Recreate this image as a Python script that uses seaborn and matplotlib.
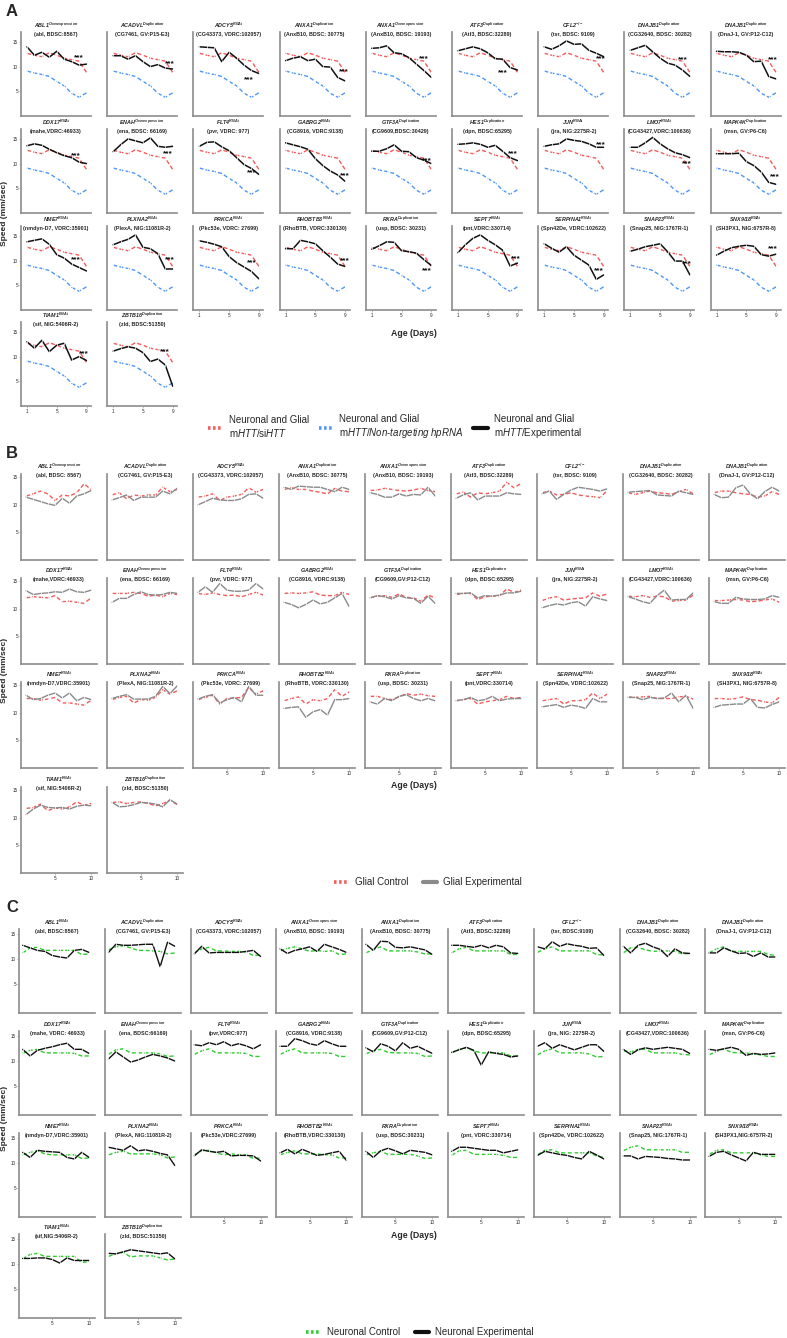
# Walking speed of HD flies, three screens (A: neuronal+glial, B: glial, C: neuronal)
import numpy as np
import pandas as pd
import matplotlib
matplotlib.use("Agg")
import matplotlib.pyplot as plt
import seaborn as sns
from matplotlib.lines import Line2D

# ==========================================
# DATA
# ==========================================

genes_a = ["ABL1", "ACADVL", "ADCY5", "ANXA1", "ANXA1", "ATF3", "CFL2", "DNAJB1", "DNAJB1",
           "DDX17", "ENAH", "FLT4", "GABRG2", "GTF3A", "HES1", "JUN", "LMO7", "MAPK4K",
           "NME7", "PLXNA2", "PRKCA", "RHOBTB3", "RXRA", "SEPT7", "SERPINA1", "SNAP23", "SNX9/18",
           "TIAM1", "ZBTB16"]
genes_bc = genes_a[:21] + ["RHOBTB2"] + genes_a[22:]

mods_ab = ["Overexpression", "Duplication", "RNAi", "Duplication", "Overexpression", "Duplication",
           "-/-", "Duplication", "Duplication", "RNAi", "Overexpression", "RNAi", "RNAi",
           "Duplication", "Duplication", "RNAi", "RNAi", "Duplication", "RNAi", "RNAi", "RNAi",
           "RNAi", "Duplication", "RNAi", "RNAi", "RNAi", "RNAi", "RNAi", "Duplication"]
mods_c = ["RNAi", "Duplication", "RNAi", "Overexpression", "Duplication"] + mods_ab[5:]

subs_a = ["(abl, BDSC:8567)", "(CG7461, GV:P15-E3)", "(CG43373, VDRC:102057)",
          "(AnxB10, BDSC: 30775)", "(AnxB10, BDSC: 19193)", "(Atf3, BDSC:32289)",
          "(tsr, BDSC: 9109)", "(CG32640, BDSC: 30282)", "(DnaJ-1, GV:P12-C12)",
          "(mahe,VDRC:46933)", "(ena, BDSC: 66169)", "(pvr, VDRC: 977)", "(CG8916, VDRC:9138)",
          "(CG9609,BDSC:30429)", "(dpn, BDSC:65295)", "(jra, NIG:2275R-2)",
          "(CG43427,VDRC:100636)", "(msn, GV:P6-C6)", "(nmdyn-D7, VDRC:35901)",
          "(PlexA, NIG:11081R-2)", "(Pkc53e, VDRC: 27699)", "(RhoBTB, VDRC:330130)",
          "(usp, BDSC: 30231)", "(pnt,VDRC:330714)", "(Spn42De, VDRC:102622)",
          "(Snap25, NIG:1767R-1)", "(SH3PX1, NIG:6757R-8)", "(sif, NIG:5406R-2)",
          "(zld, BDSC:51350)"]
subs_b = ["(abl, BDSC: 8567)"] + subs_a[1:13] + ["(CG9609,GV:P12-C12)"] + subs_a[14:18] + \
         ["(nmdyn-D7,VDRC:35901)"] + subs_a[19:]
subs_c = ["(abl, BDSC:8567)", "(CG7461, GV:P15-E3)", "(CG43373, VDRC:102057)",
          "(AnxB10, BDSC: 19193)", "(AnxB10, BDSC: 30775)", "(Atf3, BDSC:32289)",
          "(tsr, BDSC:9109)", "(CG32640, BDSC: 30282)", "(DnaJ-1, GV:P12-C12)",
          "(mahe, VDRC: 46933)", "(ena, BDSC:66169)", "(pvr,VDRC:977)", "(CG8916, VDRC:9138)",
          "(CG9609,GV:P12-C12)", "(dpn, BDSC:65295)", "(jra, NIG: 2275R-2)",
          "(CG43427,VDRC:100636)", "(msn, GV:P6-C6)", "(nmdyn-D7,VDRC:35901)",
          "(PlexA, NIG:11081R-2)", "(Pkc53e,VDRC:27699)", "(RhoBTB,VDRC:330130)",
          "(usp, BDSC:30231)", "(pnt, VDRC:330714)", "(Spn42De, VDRC:102622)",
          "(Snap25, NIG:1767R-1)", "(SH3PX1,NIG:6757R-2)", "(sif,NIG:5406R-2)",
          "(zld, BDSC:51350)"]

days_a = [1, 2, 3, 4, 5, 6, 7, 8, 9]
days_bc = [1, 2, 3, 4, 5, 6, 7, 8, 9, 10]

# panel A controls (same in every plot)
a_sihtt = [12.7, 12.3, 12.0, 12.8, 12.3, 11.7, 11.4, 11.1, 8.8]
a_nontarget = [9.1, 8.7, 8.4, 8.0, 7.0, 6.1, 4.6, 3.8, 4.7]

a_exp = [
    [14.0, 12.3, 12.9, 11.9, 13.1, 11.5, 11.0, 10.3, 10.5],
    [12.2, 12.2, 11.5, 12.2, 11.0, 10.0, 10.4, 9.7, 9.5],
    [14.0, 13.9, 13.8, 11.0, 12.9, 11.7, 10.3, 9.2, 8.6],
    [11.2, 11.7, 12.0, 11.2, 11.5, 10.0, 9.9, 7.8, 7.1],
    [13.7, 13.8, 14.2, 12.8, 12.6, 11.8, 10.5, 9.2, 7.8],
    [13.2, 13.6, 14.0, 13.6, 12.8, 11.6, 11.5, 9.8, 9.3],
    [14.0, 13.5, 14.2, 15.2, 14.5, 14.6, 13.3, 12.7, 12.0],
    [13.3, 13.8, 14.3, 13.0, 11.7, 10.7, 10.3, 9.3, 8.0],
    [13.1, 13.0, 13.0, 12.9, 12.3, 11.0, 11.1, 8.0, 7.5],
    [13.6, 14.0, 13.7, 12.9, 12.2, 11.6, 11.2, 10.3, 10.0],
    [12.4, 13.8, 15.0, 14.6, 14.2, 15.2, 13.5, 13.3, 13.5],
    [13.5, 14.3, 14.4, 13.4, 12.6, 11.2, 9.8, 9.0, 7.8],
    [14.2, 13.8, 13.4, 12.9, 11.0, 9.6, 8.5, 7.7, 6.4],
    [12.5, 12.5, 13.0, 13.8, 12.5, 12.4, 11.2, 10.7, 10.0],
    [13.9, 14.0, 14.2, 13.9, 13.3, 13.7, 12.5, 11.2, 10.6],
    [13.5, 13.8, 14.0, 15.0, 14.7, 14.5, 14.0, 13.3, 13.3],
    [13.3, 13.3, 14.2, 15.3, 14.0, 13.0, 12.2, 11.8, 11.2],
    [12.0, 12.0, 12.0, 12.1, 10.4, 9.6, 8.3, 6.2, 5.8],
    [13.8, 14.1, 14.4, 13.3, 11.2, 10.5, 9.3, 8.6, 7.9],
    [13.2, 13.8, 14.3, 15.2, 12.7, 12.4, 11.4, 8.3, 8.3],
    [14.0, 13.7, 13.3, 12.8, 10.8, 9.6, 8.7, 7.8, 6.3],
    [12.4, 12.4, 14.1, 13.8, 13.4, 12.0, 10.7, 9.3, 8.8],
    [12.3, 13.0, 13.8, 13.7, 12.0, 11.8, 11.5, 10.2, 9.0],
    [11.6, 13.2, 14.5, 15.2, 14.1, 13.2, 12.1, 8.9, 9.5],
    [13.4, 12.5, 11.7, 12.8, 11.1, 10.1, 9.1, 6.2, 7.1],
    [11.9, 12.3, 12.8, 13.1, 13.4, 11.8, 9.9, 9.9, 7.1],
    [11.1, 11.9, 12.6, 12.9, 13.1, 12.9, 11.2, 10.9, 11.3],
    [13.0, 11.7, 13.3, 11.0, 12.3, 12.7, 9.3, 10.0, 9.2],
    [11.1, 11.6, 12.0, 11.7, 10.8, 9.0, 9.5, 8.3, 4.0],
]
# "***" label positions in panel A (day, speed)
star_day = [8.0, 8.6, 7.6, 8.8, 8.0, 7.0, 8.6, 8.0, 8.6,
            7.6, 8.4, 8.0, 9.0, 8.4, 8.4, 8.6, 8.6, 8.8,
            7.6, 8.6, 8.0, 9.0, 8.4, 8.8, 8.4, 8.6, 8.6,
            8.6, 8.0]
star_speed = [11.8, 10.6, 7.4, 8.9, 11.6, 8.8, 11.5, 11.3, 11.3,
              11.5, 12.0, 8.2, 7.6, 10.6, 12.0, 13.8, 10.0, 7.3,
              10.2, 10.2, 9.5, 10.0, 8.0, 10.3, 8.0, 9.3, 12.3,
              10.6, 11.0]

b_ctrl = [
    [11.6, 12.0, 12.5, 12.0, 10.8, 11.8, 11.6, 12.2, 13.8, 12.8],
    [11.8, 12.2, 11.1, 11.8, 11.6, 11.8, 11.8, 13.2, 12.4, 12.8],
    [11.4, 11.6, 12.0, 10.8, 11.4, 11.6, 11.9, 13.1, 12.3, 12.8],
    [12.8, 13.1, 12.8, 12.8, 12.5, 12.3, 12.0, 13.0, 12.5, 12.4],
    [12.6, 12.7, 13.0, 12.8, 12.6, 12.5, 12.7, 13.0, 12.6, 12.4],
    [12.0, 12.3, 11.4, 12.2, 12.0, 12.2, 12.5, 14.1, 13.1, 13.9],
    [12.2, 12.5, 11.8, 11.9, 12.2, 11.8, 11.6, 11.5, 11.3, 12.6],
    [12.2, 11.9, 12.2, 12.5, 12.2, 12.1, 11.9, 12.4, 12.8, 12.0],
    [12.2, 12.5, 12.5, 12.2, 12.0, 11.9, 11.4, 11.6, 12.4, 11.9],
    [12.0, 12.2, 12.1, 12.0, 12.4, 11.3, 11.4, 11.2, 11.0, 12.0],
    [12.8, 12.8, 12.8, 13.0, 12.8, 12.3, 12.5, 12.2, 12.8, 12.6],
    [12.8, 12.6, 12.9, 12.6, 12.4, 12.5, 12.2, 12.6, 13.0, 12.5],
    [12.8, 12.9, 12.8, 12.9, 13.1, 12.5, 12.4, 12.4, 13.0, 12.6],
    [12.0, 12.3, 12.4, 12.1, 12.7, 12.1, 12.0, 11.4, 12.5, 12.0],
    [12.6, 12.8, 12.8, 11.7, 12.2, 12.3, 12.4, 13.6, 13.0, 13.4],
    [11.5, 12.0, 12.2, 11.6, 11.8, 11.9, 12.0, 12.9, 12.3, 12.7],
    [12.3, 12.2, 12.4, 12.1, 12.3, 12.2, 11.4, 11.5, 11.6, 12.5],
    [11.5, 11.5, 11.6, 11.7, 11.6, 11.3, 11.4, 11.6, 11.8, 11.2],
    [12.6, 12.6, 12.3, 12.5, 12.8, 11.8, 11.8, 11.6, 11.4, 12.3],
    [12.4, 12.8, 13.0, 11.8, 12.4, 12.3, 12.8, 14.2, 13.4, 14.0],
    [12.4, 12.8, 13.2, 11.6, 12.6, 12.7, 12.8, 14.6, 13.4, 14.0],
    [12.2, 12.6, 12.9, 11.6, 12.4, 12.2, 12.6, 14.2, 13.0, 13.8],
    [13.0, 13.0, 12.6, 12.4, 12.9, 13.5, 13.2, 13.4, 13.1, 13.0],
    [12.2, 12.4, 12.6, 11.6, 12.0, 12.2, 12.4, 13.0, 12.6, 12.8],
    [12.2, 12.4, 12.6, 11.6, 12.2, 12.2, 12.4, 13.6, 12.6, 13.4],
    [12.9, 12.8, 12.9, 13.0, 12.6, 12.6, 12.6, 12.9, 13.0, 12.5],
    [12.6, 12.6, 12.5, 12.6, 12.9, 12.4, 12.3, 12.0, 11.8, 12.8],
    [11.7, 11.9, 12.5, 11.3, 11.8, 11.6, 12.0, 12.9, 12.3, 12.6],
    [12.8, 12.9, 12.6, 12.8, 12.9, 12.6, 12.2, 12.6, 13.2, 12.4],
]
b_exp = [
    [11.4, 11.0, 10.6, 10.2, 9.9, 11.2, 10.3, 11.6, 12.0, 12.6],
    [10.9, 11.3, 11.8, 10.8, 11.4, 11.4, 11.4, 12.5, 12.0, 13.0],
    [10.0, 10.6, 11.2, 10.9, 10.8, 10.8, 11.1, 11.9, 12.0, 11.2],
    [13.2, 12.8, 13.4, 13.3, 13.2, 13.2, 12.8, 12.4, 13.2, 12.8],
    [12.2, 11.9, 11.4, 11.4, 12.0, 11.6, 11.9, 11.8, 13.2, 11.6],
    [11.2, 11.8, 12.2, 10.9, 11.6, 11.6, 11.6, 12.2, 12.0, 11.9],
    [12.0, 12.5, 11.0, 11.9, 12.7, 13.2, 13.0, 12.8, 12.5, 12.9],
    [12.3, 12.4, 12.5, 12.6, 11.8, 11.7, 11.6, 12.5, 12.2, 11.9],
    [11.9, 11.3, 11.4, 13.1, 13.6, 12.0, 11.1, 12.4, 13.2, 12.5],
    [13.3, 12.6, 12.8, 12.9, 13.1, 13.0, 13.6, 13.1, 13.0, 13.4],
    [11.2, 11.9, 11.9, 12.6, 13.1, 12.6, 12.5, 12.6, 13.0, 12.8],
    [13.0, 14.0, 13.0, 14.6, 13.4, 13.2, 13.2, 13.4, 14.6, 13.6],
    [11.2, 10.8, 10.2, 10.8, 11.6, 10.9, 11.2, 12.0, 12.8, 10.4],
    [12.0, 12.4, 12.2, 11.8, 12.4, 12.0, 11.9, 11.0, 12.3, 11.0],
    [12.8, 12.8, 12.9, 12.0, 12.4, 12.3, 12.5, 12.9, 12.9, 13.2],
    [10.2, 10.6, 10.9, 10.7, 11.1, 11.3, 10.5, 12.2, 11.8, 11.5],
    [12.2, 11.8, 11.3, 11.0, 12.4, 13.4, 11.6, 11.7, 11.7, 12.9],
    [11.3, 11.0, 11.0, 12.1, 11.8, 11.7, 11.7, 11.8, 12.4, 12.1],
    [13.2, 12.4, 12.6, 13.2, 13.6, 12.7, 13.6, 12.2, 12.8, 12.4],
    [12.6, 13.0, 13.3, 12.5, 12.5, 12.5, 13.0, 14.8, 13.5, 14.9],
    [12.5, 13.0, 13.3, 11.8, 12.4, 12.8, 12.0, 14.8, 13.2, 13.2],
    [10.8, 11.0, 11.1, 9.2, 10.2, 10.6, 9.6, 12.4, 12.4, 12.6],
    [12.0, 11.6, 12.6, 12.2, 13.0, 13.3, 12.6, 12.2, 12.6, 12.2],
    [12.2, 12.4, 12.8, 12.2, 12.4, 13.0, 12.2, 12.5, 12.6, 12.6],
    [11.1, 11.3, 11.5, 11.0, 11.4, 11.2, 10.8, 12.6, 12.0, 12.0],
    [12.8, 12.8, 12.4, 12.8, 12.6, 12.7, 13.6, 12.0, 13.2, 10.8],
    [11.0, 11.4, 11.5, 11.6, 11.6, 12.6, 11.0, 10.9, 11.5, 12.0],
    [10.6, 11.6, 12.3, 11.9, 11.8, 11.9, 11.6, 12.1, 12.3, 12.2],
    [12.8, 12.0, 12.1, 12.4, 12.8, 12.7, 12.5, 12.0, 13.3, 12.5],
]

c_ctrl = [
    [11.2, 12.2, 12.3, 11.7, 11.7, 11.7, 11.7, 11.7, 10.9, 11.0],
    [11.8, 12.4, 12.6, 12.2, 11.7, 11.7, 11.6, 11.5, 11.0, 11.2],
    [11.2, 12.0, 12.3, 11.6, 11.6, 11.5, 11.5, 11.4, 10.7, 10.8],
    [11.6, 12.1, 12.4, 12.0, 11.5, 11.7, 11.5, 11.6, 10.9, 11.0],
    [11.2, 11.9, 12.4, 11.6, 11.6, 11.6, 11.6, 11.4, 11.0, 11.0],
    [11.2, 12.0, 12.3, 11.6, 11.6, 11.6, 11.6, 11.6, 10.9, 10.9],
    [11.3, 12.0, 12.4, 11.6, 11.6, 11.6, 11.6, 11.6, 10.9, 10.8],
    [11.2, 12.2, 12.3, 11.8, 11.5, 11.6, 11.6, 11.5, 11.0, 11.1],
    [11.2, 12.0, 12.4, 11.5, 11.5, 11.5, 11.5, 11.5, 10.9, 10.7],
    [11.5, 12.1, 12.3, 11.6, 11.6, 11.6, 11.6, 11.5, 11.0, 11.0],
    [11.3, 12.2, 12.4, 11.6, 11.6, 11.6, 11.6, 11.4, 10.9, 11.0],
    [11.3, 12.0, 12.4, 11.6, 11.6, 11.6, 11.6, 11.5, 10.9, 10.9],
    [11.3, 12.0, 12.4, 11.6, 11.6, 11.6, 11.6, 11.5, 10.9, 10.9],
    [11.4, 12.0, 12.3, 11.7, 11.6, 11.6, 11.6, 11.5, 10.9, 11.0],
    [11.6, 12.3, 12.6, 12.0, 11.6, 11.6, 11.6, 11.6, 11.0, 11.0],
    [11.2, 12.0, 12.4, 11.6, 11.6, 11.6, 11.6, 11.4, 10.8, 10.9],
    [12.0, 11.8, 12.3, 12.3, 11.6, 11.6, 11.6, 11.6, 11.3, 11.2],
    [11.2, 11.9, 12.4, 11.7, 11.6, 11.6, 11.4, 11.2, 10.9, 10.9],
    [11.6, 12.1, 12.4, 11.8, 11.6, 11.6, 11.6, 11.6, 10.9, 11.0],
    [11.6, 12.1, 12.3, 11.8, 11.8, 11.8, 11.8, 11.6, 11.0, 11.2],
    [11.6, 12.4, 12.5, 12.0, 11.6, 11.8, 11.6, 11.6, 10.9, 11.0],
    [11.6, 12.1, 12.4, 11.8, 11.8, 11.8, 11.6, 11.6, 11.0, 11.0],
    [11.6, 12.0, 12.3, 11.7, 11.7, 11.7, 11.7, 11.4, 10.9, 11.0],
    [11.5, 12.4, 12.5, 11.7, 11.7, 11.7, 11.7, 11.5, 11.1, 11.1],
    [11.6, 12.5, 12.6, 12.0, 12.0, 12.0, 12.0, 12.0, 11.4, 11.1],
    [12.4, 13.1, 13.4, 12.6, 12.6, 12.6, 12.6, 12.6, 12.1, 12.1],
    [11.7, 12.5, 12.6, 12.0, 12.0, 12.0, 12.0, 11.6, 11.3, 11.3],
    [11.0, 11.9, 12.1, 11.5, 11.5, 11.5, 11.5, 11.5, 10.3, 10.5],
    [11.5, 12.0, 12.3, 11.4, 11.6, 11.6, 11.6, 11.2, 10.8, 11.0],
]
c_exp = [
    [12.7, 12.2, 11.7, 11.5, 10.7, 10.4, 10.2, 11.7, 11.9, 11.3],
    [11.3, 12.9, 12.7, 12.7, 12.8, 12.9, 12.9, 8.5, 13.3, 12.5],
    [11.0, 12.5, 11.2, 11.3, 11.3, 11.3, 11.3, 11.5, 11.7, 10.5],
    [12.0, 11.1, 11.7, 12.0, 12.4, 11.5, 12.9, 12.4, 11.9, 11.3],
    [12.9, 11.7, 13.5, 13.4, 12.3, 12.2, 12.4, 12.1, 11.8, 10.9],
    [12.7, 12.7, 12.5, 12.3, 12.7, 12.2, 12.7, 12.4, 11.2, 11.1],
    [12.4, 12.0, 13.4, 12.5, 13.0, 12.7, 12.5, 12.1, 12.2, 10.7],
    [12.5, 11.2, 12.7, 13.1, 12.4, 11.9, 10.5, 12.0, 11.2, 11.1],
    [11.2, 11.2, 12.2, 11.6, 11.1, 11.2, 10.5, 11.2, 10.4, 10.4],
    [12.3, 11.0, 12.1, 12.5, 12.8, 13.2, 13.5, 12.3, 12.3, 11.5],
    [10.4, 11.8, 10.8, 9.8, 10.2, 10.8, 11.3, 11.0, 10.6, 10.0],
    [13.2, 13.0, 13.6, 13.2, 13.8, 13.0, 13.4, 13.0, 12.4, 13.2],
    [12.9, 12.9, 14.4, 14.0, 13.4, 13.1, 14.0, 13.4, 12.9, 12.9],
    [12.6, 11.8, 13.4, 12.9, 12.0, 13.6, 12.5, 12.9, 12.2, 11.5],
    [11.7, 12.2, 12.7, 12.1, 9.2, 11.8, 11.5, 11.3, 10.8, 11.0],
    [12.9, 13.6, 12.5, 13.2, 12.7, 12.2, 12.7, 13.2, 13.2, 11.9],
    [12.3, 11.3, 12.2, 12.6, 12.3, 12.5, 12.7, 12.5, 12.3, 11.5],
    [12.3, 12.1, 12.4, 12.7, 12.3, 11.1, 11.5, 11.3, 11.4, 11.6],
    [12.1, 11.1, 12.5, 12.3, 12.2, 12.1, 11.1, 10.8, 12.1, 11.1],
    [13.1, 12.8, 12.5, 13.4, 12.4, 12.6, 12.3, 11.9, 11.6, 9.5],
    [11.4, 12.6, 12.3, 12.1, 12.3, 11.4, 11.5, 11.5, 11.4, 10.4],
    [12.0, 12.7, 11.8, 12.7, 12.1, 11.5, 11.7, 12.0, 12.3, 10.5],
    [12.3, 11.1, 12.4, 12.9, 12.4, 11.8, 12.5, 12.3, 12.1, 11.6],
    [12.3, 13.1, 13.1, 12.9, 12.7, 12.5, 12.5, 12.0, 12.3, 12.6],
    [11.5, 12.3, 12.0, 11.7, 11.5, 11.1, 10.8, 12.3, 11.6, 10.8],
    [11.4, 11.4, 10.8, 11.3, 11.2, 11.1, 10.9, 10.8, 10.6, 10.6],
    [11.3, 12.1, 12.3, 11.6, 11.0, 10.4, 12.1, 11.7, 11.7, 11.7],
    [11.1, 11.1, 11.2, 11.2, 10.9, 10.2, 11.2, 10.7, 10.7, 10.7],
    [12.1, 12.0, 12.4, 12.8, 12.6, 12.4, 12.2, 12.0, 12.2, 11.0],
]

# ==========================================
# STYLE
# ==========================================

sns.set_style("ticks")
plt.rcParams["font.family"] = ["Liberation Sans", "DejaVu Sans"]
plt.rcParams["mathtext.fontset"] = "custom"
plt.rcParams["mathtext.rm"] = "Liberation Sans"
plt.rcParams["mathtext.it"] = "Liberation Sans:italic"
plt.rcParams["mathtext.bf"] = "Liberation Sans:italic:bold"

RED = "#f45b5b"
BLUE = "#4f97f5"
GREEN = "#2fcb2f"
GRAY = "#8a8a8a"
BLACK = "#111111"
SPINE = "#8c8c8c"
DASH = (0, (3, 1.6))

W, H = 787, 1338
fig = plt.figure(figsize=(W / 100, H / 100), dpi=100)


def px_axes(left, top, width, height):
    return fig.add_axes([left / W, 1 - (top + height) / H, width / W, height / H])


def draw_line(ax, days, vals, color, style, lw):
    df = pd.DataFrame({"day": days, "speed": vals})
    sns.lineplot(data=df, x="day", y="speed", ax=ax, color=color, linestyle=style,
                 linewidth=lw, marker="|", markersize=2.5, markeredgewidth=0.5,
                 errorbar=None, legend=False)


def draw_panel(lefts, tops, width, height, genes, mods, subs, series, days,
               ylim, xlim, xticks, title_off):
    for i in range(len(genes)):
        r, c = divmod(i, 9)
        ax = px_axes(lefts[c], tops[r], width, height)
        for vals, color, style, lw in series(i):
            draw_line(ax, days, vals, color, style, lw)
        ax.set_ylim(*ylim)
        ax.set_xlim(*xlim)
        ax.set_xlabel("")
        ax.set_ylabel("")
        sns.despine(ax=ax)
        for side in ["left", "bottom"]:
            ax.spines[side].set_color(SPINE)
            ax.spines[side].set_linewidth(1.2)
        ax.tick_params(labelsize=3.3, length=1.2, width=0.4, color=SPINE, pad=1)
        ax.set_yticks([5, 10, 15])
        if c > 0:
            ax.tick_params(axis="y", labelleft=False, length=0)
        bottom = (r == 2 and c >= 2) or r == 3
        ax.set_xticks(xticks if bottom else [])
        title = f"$\\mathbf{{{genes[i]}}}^{{\\mathbf{{{mods[i]}}}}}$\n{subs[i]}"
        ax.text(0.5, 1 + title_off, title, transform=ax.transAxes, ha="center", va="center",
                fontsize=3.9, fontweight="bold", linespacing=1.55)
        yield i, ax


# ==========================================
# PANEL A
# ==========================================

lefts_a = [21 + 86.2 * k for k in range(9)]
tops_a = [32, 129, 226, 322]
series_a = lambda i: [(a_sihtt, RED, DASH, 1.0), (a_nontarget, BLUE, DASH, 1.0),
                      (a_exp[i], BLACK, "-", 1.1)]
for i, ax in draw_panel(lefts_a, tops_a, 70, 84, genes_a, mods_ab, subs_a, series_a, days_a,
                        (0, 17), (0.2, 9.6), [1, 5, 9], 3 / 84):
    ax.text(star_day[i], star_speed[i], "***", ha="center", va="center",
            fontsize=6, fontweight="bold", color=BLACK)

# ==========================================
# PANEL B
# ==========================================

lefts_b = [21 + 86 * k for k in range(9)]
tops_b = [474, 578, 682, 787]
series_b = lambda i: [(b_ctrl[i], RED, DASH, 1.0), (b_exp[i], GRAY, "-", 1.0)]
for i, ax in draw_panel(lefts_b, tops_b, 76, 86, genes_bc, mods_ab, subs_b, series_b, days_bc,
                        (0, 15.6), (0.3, 10.8), [5, 10], 4 / 86):
    pass

# ==========================================
# PANEL C
# ==========================================

lefts_c = [19 + 85.8 * k for k in range(9)]
tops_c = [929, 1031, 1133, 1234]
series_c = lambda i: [(c_ctrl[i], GREEN, DASH, 1.0), (c_exp[i], BLACK, "-", 1.0)]
for i, ax in draw_panel(lefts_c, tops_c, 76, 84, genes_bc, mods_c, subs_c, series_c, days_bc,
                        (-0.6, 15.9), (0.5, 10.8), [5, 10], 3 / 84):
    pass

# ==========================================
# LABELS AND LEGENDS
# ==========================================

def fig_text(x, y, s, **kw):
    fig.text(x / W, 1 - y / H, s, **kw)


fig_text(6, 12, "A", fontsize=12, fontweight="bold", va="center")
fig_text(6, 454, "B", fontsize=12, fontweight="bold", va="center")
fig_text(6, 908, "C", fontsize=12, fontweight="bold", va="center")

for yc in [213, 670, 1118]:
    fig_text(4.5, yc, "Speed (mm/sec)", rotation=90, ha="center", va="center",
             fontsize=6, fontweight="bold")
for yc in [334, 786, 1235]:
    fig_text(414, yc, "Age (Days)", ha="center", va="center", fontsize=6.3, fontweight="bold")

dot = dict(linestyle=(0, (0.7, 0.7)), linewidth=2.6)
handles_a = [Line2D([], [], color=RED, **dot), Line2D([], [], color=BLUE, **dot),
             Line2D([], [], color=BLACK, linewidth=3)]
labels_a = ["Neuronal and Glial\nm$\\mathit{HTT}$/si$\\mathit{HTT}$",
            "Neuronal and Glial\nm$\\mathit{HTT/Non}$-$\\mathit{targeting\\ hpRNA}$",
            "Neuronal and Glial\nm$\\mathit{HTT}$/Experimental"]
fig.legend(handles_a, labels_a, loc="center", bbox_to_anchor=(395 / W, 1 - 427 / H), ncol=3,
           frameon=False, fontsize=7, handlelength=1.5, handletextpad=0.6, columnspacing=1.0)

handles_b = [Line2D([], [], color=RED, **dot), Line2D([], [], color=GRAY, linewidth=3)]
fig.legend(handles_b, ["Glial Control", "Glial Experimental"], loc="center",
           bbox_to_anchor=(428 / W, 1 - 882 / H), ncol=2, frameon=False, fontsize=7,
           handlelength=1.5, handletextpad=0.6, columnspacing=1.5)

handles_c = [Line2D([], [], color=GREEN, **dot), Line2D([], [], color=BLACK, linewidth=3)]
fig.legend(handles_c, ["Neuronal Control", "Neuronal Experimental"], loc="center",
           bbox_to_anchor=(420 / W, 1 - 1332 / H), ncol=2, frameon=False, fontsize=7,
           handlelength=1.5, handletextpad=0.6, columnspacing=1.5)

fig.savefig("out.png", dpi=100)
